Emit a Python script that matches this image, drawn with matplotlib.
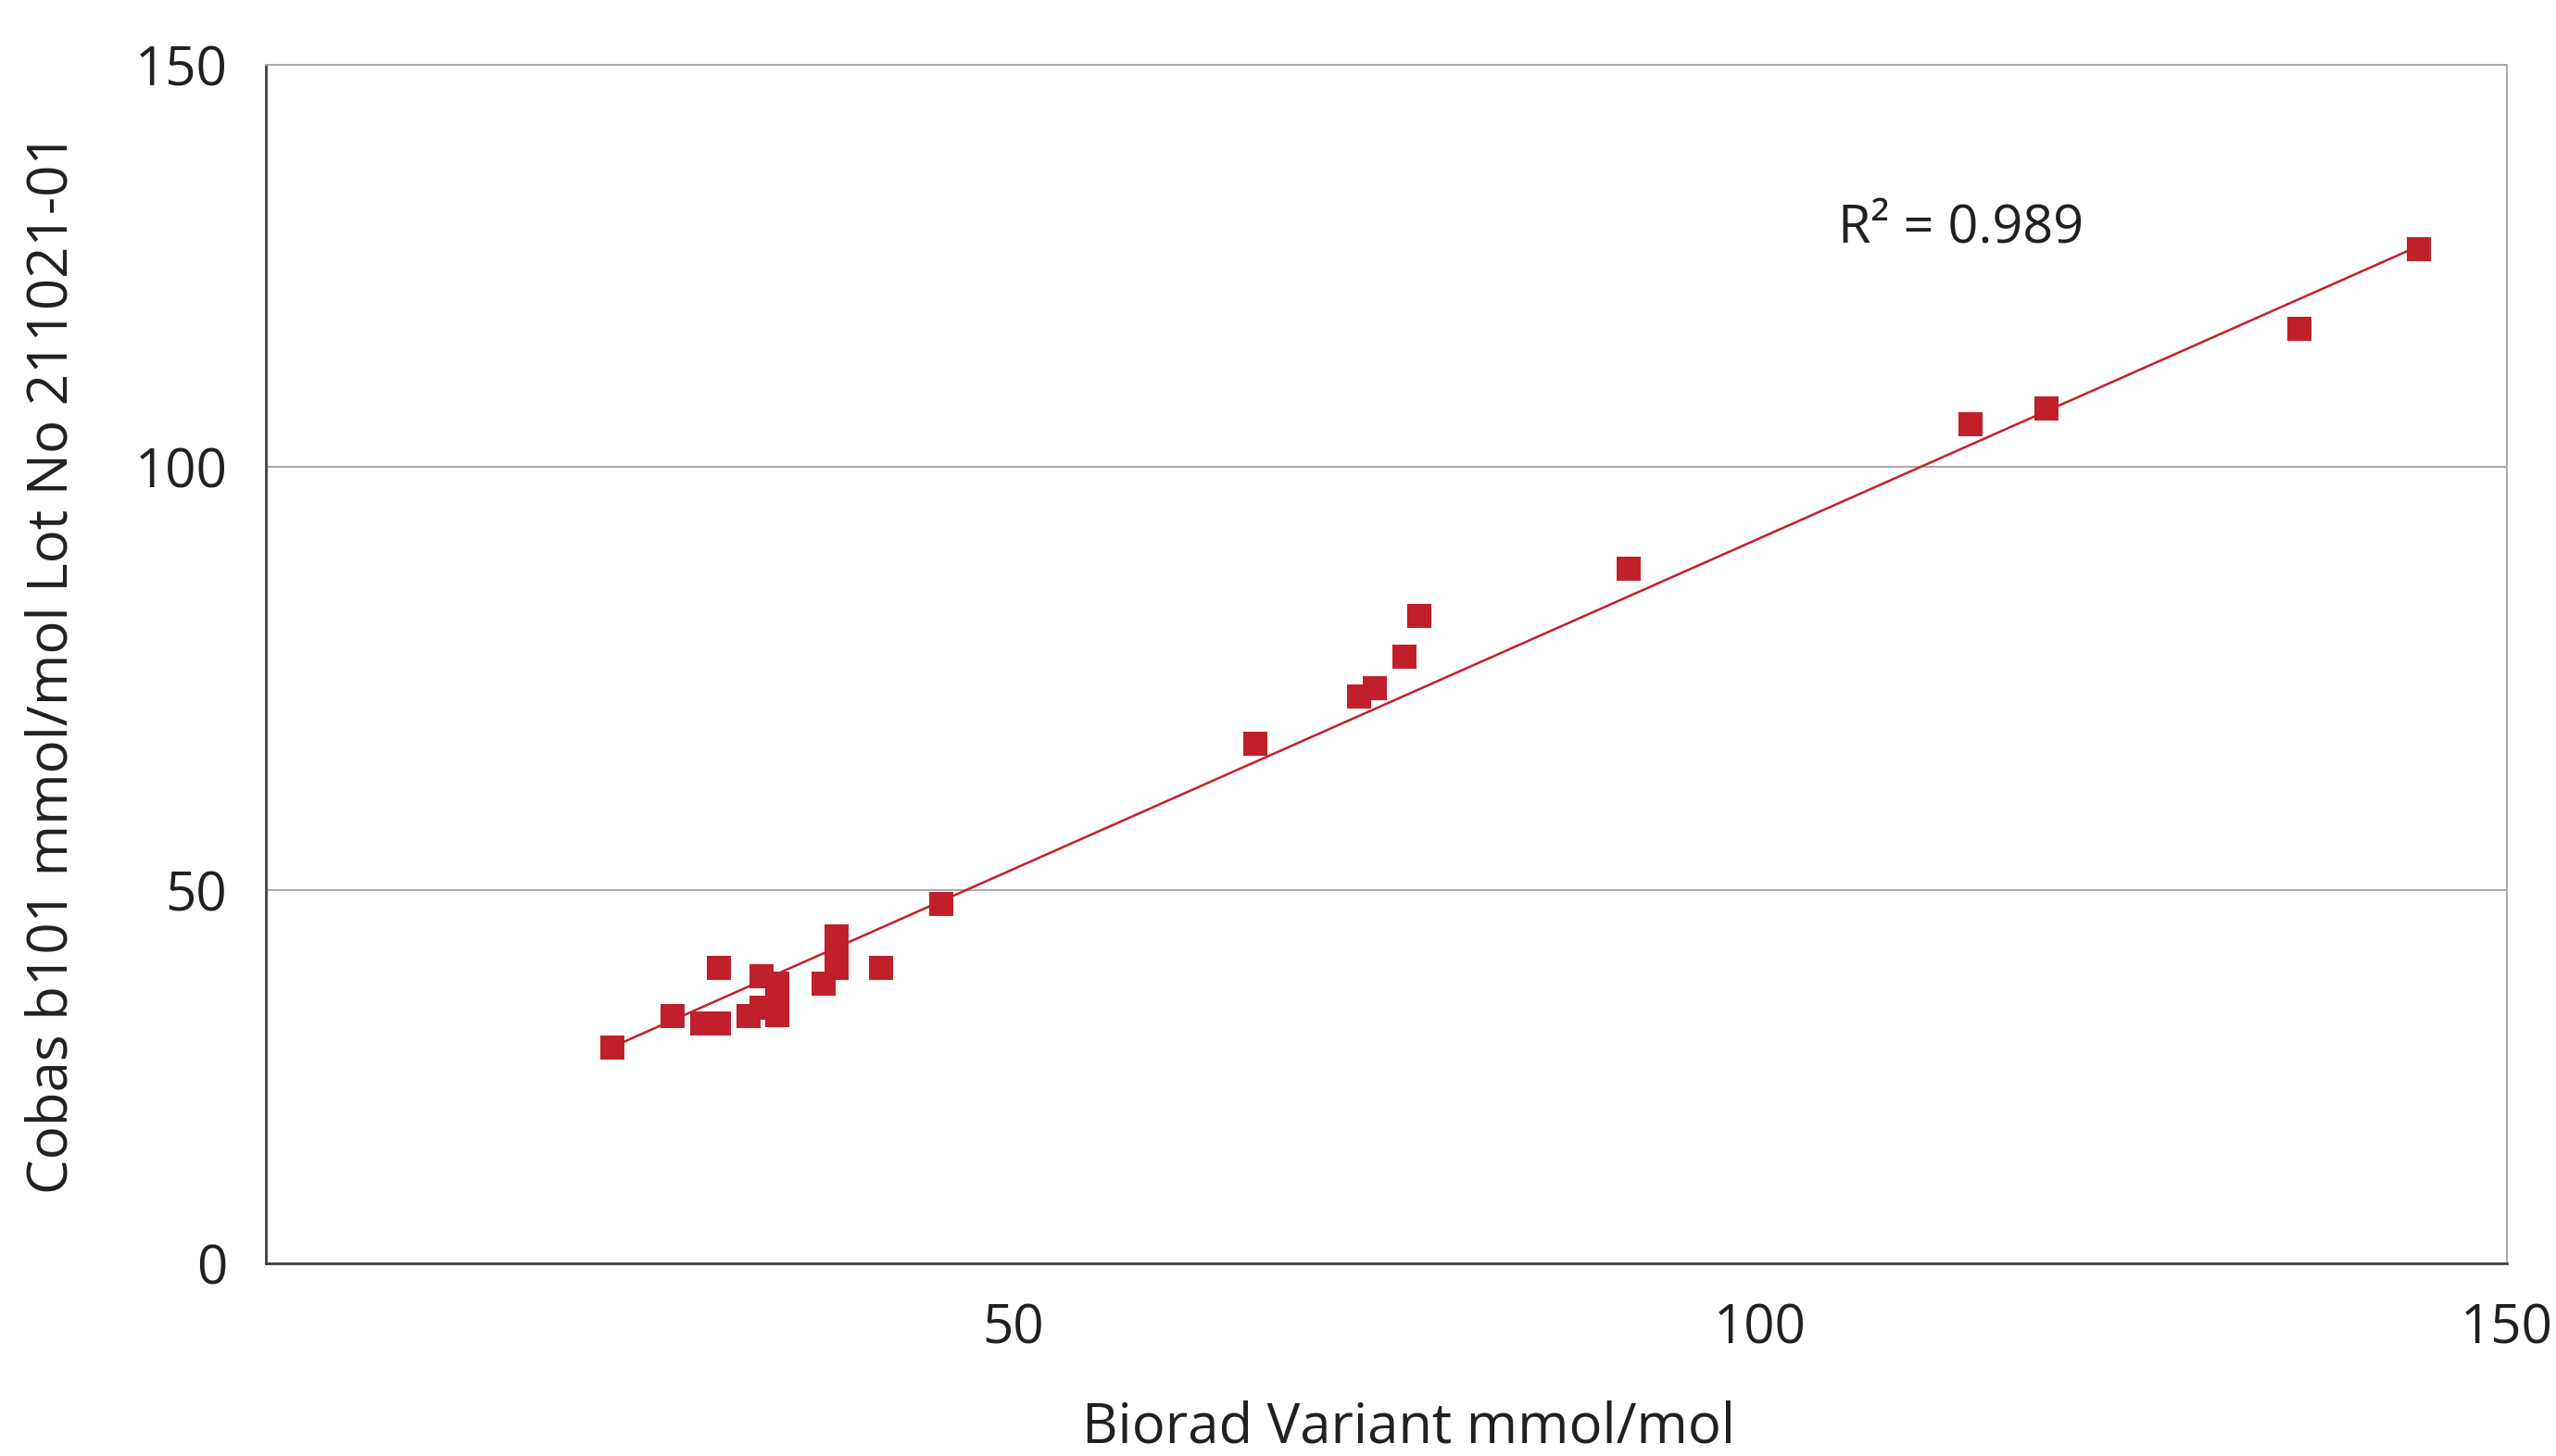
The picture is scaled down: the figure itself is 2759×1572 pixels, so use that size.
import numpy as np
import matplotlib
matplotlib.use("Agg")
import matplotlib.pyplot as plt

# ---- data ----
biorad = [23.2, 27.2, 29.2, 30.3, 30.3, 32.3, 33.2, 33.2, 34.2, 34.2, 34.2, 37.3,
          38.2, 38.2, 38.2, 41.2, 45.2,
          66.2, 73.2, 74.2, 76.2, 77.2, 91.2, 114.1, 119.2, 136.1, 144.1]
cobas = [28.9, 33.1, 32.1, 32.1, 39.6, 33.1, 38.5, 34.2, 37.5, 33.2, 35.5, 37.5,
         43.8, 41.8, 39.6, 39.6, 48.1,
         67.3, 72.9, 73.9, 77.6, 82.4, 88.0, 105.3, 107.3, 117.2, 127.1]
fit_x = [23.2, 143.3]
fit_y = [29.0, 126.8]
r2_text = "R\u00b2 = 0.989"
xticks = [50, 100, 150]
yticks = [0, 50, 100, 150]
xlabel = "Biorad Variant mmol/mol"
ylabel = "Cobas b101 mmol/mol Lot No 211021-01"

# The reference's y axis is not evenly spaced between its labelled ticks;
# reproduce that with a piecewise-linear scale through the tick positions.
scale_vals = [0, 50, 100, 150]
scale_pos = [0, 403, 860, 1294]


def fwd(v):
    return np.interp(v, scale_vals, scale_pos)


def inv(p):
    return np.interp(p, scale_pos, scale_vals)


RED = "#C1202B"
FONT = "Open Sans"
TXT = "#231F20"

W, H, DPI = 2759, 1572, 200
fig = plt.figure(figsize=(W / DPI, H / DPI), dpi=DPI)
ax = fig.add_axes([287 / W, 1 - 1364 / H, (2706 - 287) / W, (1364 - 70) / H])

ax.set_xlim(0, 150)
ax.set_yscale("function", functions=(fwd, inv))
ax.set_ylim(0, 150)

ax.set_xticks(xticks)
ax.set_yticks(yticks)
ax.set_xticklabels([str(t) for t in xticks], fontfamily=FONT, fontsize=21, color=TXT)
ax.set_yticklabels([str(t) for t in yticks], fontfamily=FONT, fontsize=21, color=TXT)
ax.tick_params(axis="both", length=0)
ax.tick_params(axis="x", pad=15)
ax.tick_params(axis="y", pad=15)
ax.yaxis.set_minor_locator(matplotlib.ticker.NullLocator())

# horizontal grid
ax.grid(axis="y", color="#A8A8A8", linewidth=0.7)
ax.grid(axis="x", visible=False)
ax.set_axisbelow(True)

for s in ["left", "bottom"]:
    ax.spines[s].set_color("#3F3F3F")
    ax.spines[s].set_linewidth(1.0)
for s in ["top", "right"]:
    ax.spines[s].set_color("#A8A8A8")
    ax.spines[s].set_linewidth(0.7)

ax.plot(fit_x, fit_y, color=RED, linewidth=0.9, zorder=2)
ax.plot(biorad, cobas, linestyle="none", marker="s", markersize=9.7,
        markerfacecolor=RED, markeredgecolor=RED, markeredgewidth=0.0, zorder=3)

ax.text(105.2, 127.8, r2_text, fontfamily=FONT, fontsize=20.7, color=TXT,
        ha="left", va="baseline")

ax.set_xlabel(xlabel, fontfamily=FONT, fontsize=21.5, color=TXT)
ax.xaxis.label.set_va("baseline")
ax.xaxis.set_label_coords(0.510, -0.1499)
ax.set_ylabel(ylabel, fontfamily=FONT, fontsize=21.6, color=TXT)
ax.yaxis.label.set_va("center")
ax.yaxis.set_label_coords(-0.0953, 0.5008)

fig.savefig("out.png", dpi=DPI, facecolor="white")
